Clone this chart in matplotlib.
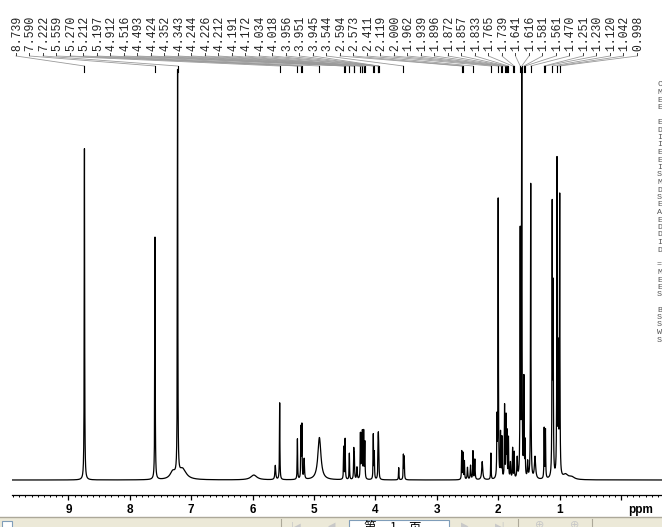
import numpy as np
import matplotlib
matplotlib.use('Agg')
import matplotlib.pyplot as plt
from matplotlib.patches import Rectangle

# peak picking labels (ppm) as printed on top of the spectrum
label_ppm = [8.739, 7.590, 7.222, 5.559, 5.270, 5.212, 5.197, 4.912, 4.516, 4.493,
             4.424, 4.352, 4.343, 4.244, 4.226, 4.212, 4.191, 4.172, 4.034, 4.018,
             3.956, 3.951, 3.945, 3.544, 2.594, 2.573, 2.411, 2.119, 2.000, 1.962,
             1.939, 1.896, 1.872, 1.857, 1.833, 1.765, 1.739, 1.641, 1.616, 1.581,
             1.561, 1.470, 1.251, 1.230, 1.120, 1.042, 0.998]

# lines making up the spectrum: position (ppm), relative height, half width (ppm)
line_ppm = [8.739, 7.590, 7.222, 7.300, 7.140, 5.980, 5.630, 5.559, 5.270, 5.212,
            5.197, 5.160, 4.912, 4.516, 4.493, 4.424, 4.352, 4.343, 4.300, 4.244,
            4.226, 4.212, 4.191, 4.172, 4.034, 4.018, 3.956, 3.951, 3.945, 3.620,
            3.544, 3.530, 2.594, 2.573, 2.550, 2.500, 2.450, 2.411, 2.380, 2.260,
            2.119, 2.020, 2.000, 1.962, 1.939, 1.896, 1.872, 1.857, 1.833, 1.800,
            1.765, 1.739, 1.690, 1.641, 1.616, 1.581, 1.561, 1.520, 1.470, 1.400,
            1.251, 1.230, 1.120, 1.105, 1.042, 1.020, 0.998, 0.900, 0.800]
line_height = [0.82, 0.60, 1.00, 0.018, 0.026, 0.012, 0.035, 0.19, 0.10, 0.125,
               0.13, 0.05, 0.105, 0.08, 0.10, 0.065, 0.07, 0.055, 0.03, 0.11,
               0.10, 0.11, 0.115, 0.09, 0.11, 0.065, 0.075, 0.07, 0.06, 0.03,
               0.06, 0.055, 0.07, 0.065, 0.045, 0.03, 0.035, 0.07, 0.05, 0.045,
               0.065, 0.14, 0.69, 0.11, 0.10, 0.18, 0.15, 0.11, 0.10, 0.04,
               0.075, 0.065, 0.05, 0.60, 1.00, 0.24, 0.085, 0.04, 0.73, 0.055,
               0.124, 0.12, 0.66, 0.45, 0.78, 0.30, 0.69, 0.012, 0.006]
line_width = [0.004, 0.004, 0.004, 0.05, 0.07, 0.06, 0.008, 0.004, 0.004, 0.004,
              0.004, 0.006, 0.03, 0.004, 0.004, 0.004, 0.004, 0.004, 0.006, 0.004,
              0.004, 0.004, 0.004, 0.004, 0.004, 0.004, 0.004, 0.004, 0.004, 0.004,
              0.004, 0.004, 0.004, 0.004, 0.004, 0.006, 0.006, 0.004, 0.005, 0.01,
              0.004, 0.004, 0.004, 0.004, 0.004, 0.004, 0.004, 0.004, 0.004, 0.006,
              0.004, 0.004, 0.006, 0.004, 0.004, 0.004, 0.004, 0.006, 0.004, 0.012,
              0.004, 0.004, 0.004, 0.004, 0.004, 0.004, 0.004, 0.05, 0.05]

# visible slice of the parameter block cut off at the right border
param_glyphs = ['C', 'M', 'E', 'E', '', 'E', 'D', 'I', 'I', 'E', 'E', 'I', 'S', 'M',
                'D', 'S', 'E', 'A', 'E', 'D', 'D', 'I', 'D', '', '=', 'M', 'E', 'E',
                'S', '', 'B', 'S', 'S', 'W', 'S']

W, H = 662, 527
fig = plt.figure(figsize=(W / 100, H / 100), dpi=100)
fig.patch.set_facecolor('white')

# spectrum axes: bottom spine sits at pixel row 495
ax = fig.add_axes([12 / W, (H - 495) / H, (W - 12) / W, 495 / H])
ax.set_xlim(9.919, -0.668)
ax.set_ylim(-15 / 404, 480 / 404)

ppm = np.arange(-0.668, 9.92, 0.0004)
ppm = np.sort(np.concatenate([ppm, line_ppm]))
spec = np.zeros_like(ppm)
for p, h, w in zip(line_ppm, line_height, line_width):
    spec += h * w ** 2 / ((ppm - p) ** 2 + w ** 2)
ax.plot(ppm, spec, color='black', lw=0.9)

for s in ['top', 'left', 'right']:
    ax.spines[s].set_visible(False)
ax.spines['bottom'].set_linewidth(0.9)
ax.set_yticks([])
ax.set_xticks(range(0, 10))
ax.set_xticklabels([''] + [str(i) for i in range(1, 10)])
ax.set_xticks(np.arange(-0.6, 9.95, 0.1), minor=True)
ax.tick_params(axis='x', which='major', length=3.8, width=0.9, pad=3,
               labelsize=8.5)
ax.tick_params(axis='x', which='minor', length=1.6, width=0.7)
for t in ax.get_xticklabels():
    t.set_fontweight('bold')
    t.set_fontfamily('Liberation Sans')

# overlay in pixel coordinates for the peak labels and window chrome
ov = fig.add_axes([0, 0, 1, 1])
ov.set_xlim(0, W)
ov.set_ylim(H, 0)
ov.axis('off')
ov.patch.set_visible(False)

ov.text(641, 510, 'ppm', fontsize=8.5, fontweight='bold',
        family='Liberation Sans', ha='center', va='center')

n = len(label_ppm)
label_x = 16 + 13.5 * np.arange(n)
for lx, p in zip(label_x, label_ppm):
    px = ax.transData.transform((p, 0))[0]
    ov.text(lx, 56, '-%.3f' % p, rotation=90, ha='center', va='bottom',
            family='Liberation Mono', fontsize=8.3, color='#222222')
    ov.plot([lx, px], [56, 66], color='#9a9a9a', lw=0.6)
    ov.plot([px, px], [66, 71.5], color='black', lw=0.8)

for i, g in enumerate(param_glyphs):
    ov.text(657, 85 + 7.5 * i, g, family='Liberation Mono', fontsize=6,
            color='#555555', ha='left', va='center', clip_on=False)

# bottom toolbar strip
ov.add_patch(Rectangle((0, 517), W, 10, facecolor='#ece9d8', edgecolor='none'))
ov.plot([0, W], [517, 517], color='#aca899', lw=1)
ov.add_patch(Rectangle((2, 521), 10, 8, facecolor='white', edgecolor='#7f9db9', lw=0.8))
for sx in [281, 518, 592]:
    ov.plot([sx, sx], [519, 527], color='#aca899', lw=0.8)
ov.add_patch(Rectangle((349, 519.5), 100, 9, facecolor='white', edgecolor='#7f9db9', lw=0.8))
for tx, tt in zip([370, 393, 415], ['第', '1', '页']):
    ov.text(tx, 521, tt, family=['Noto Sans CJK SC', 'DejaVu Sans'], fontsize=9,
            ha='center', va='top', color='black')
for tx, tt in zip([296, 332, 465, 500], ['|◀', '◀', '▶', '▶|']):
    ov.text(tx, 521, tt, family='DejaVu Sans', fontsize=7, ha='center', va='top',
            color='#c8c8c8')
for cx in [540, 575]:
    ov.text(cx, 520.5, '⊕', family='DejaVu Sans', fontsize=8, ha='center', va='top',
            color='#c8c8c8')

fig.savefig('out.png', dpi=100)
